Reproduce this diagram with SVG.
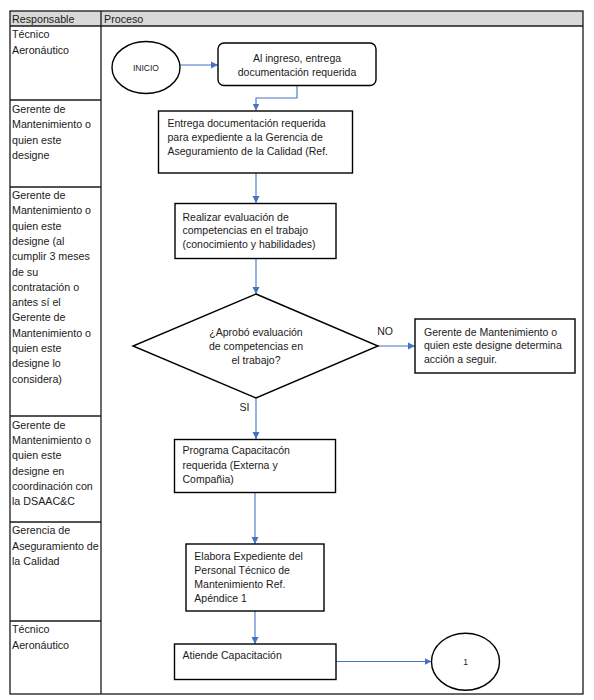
<svg xmlns="http://www.w3.org/2000/svg" width="594" height="700" viewBox="0 0 594 700">
<defs>
<marker id="ah" markerWidth="8" markerHeight="8" refX="7" refY="4" orient="auto" markerUnits="userSpaceOnUse">
<path d="M0,0.5 L7,4 L0,7.5 Z" fill="#4472C4"/>
</marker>
<style>
.tbl{fill:none;stroke:#1a1a1a;stroke-width:1.3}
.lane{font-family:"Liberation Sans",Arial,sans-serif;font-size:10.7px;fill:#1a1a1a}
.box{fill:#fff;stroke:#000;stroke-width:1.4}
.t{font-family:"Liberation Sans",Arial,sans-serif;font-size:10.5px;fill:#1a1a1a}
.sm{font-family:"Liberation Sans",Arial,sans-serif;font-size:8.5px;fill:#1a1a1a}
.c{text-anchor:middle}
.con{fill:none;stroke:#4472C4;stroke-width:1.1;marker-end:url(#ah)}
</style>
</defs>
<rect width="594" height="700" fill="#fff"/>
<g id="table">
<rect x="10" y="11" width="573" height="15" fill="#d9d9d9"/>
<rect x="10" y="11" width="573" height="683" class="tbl"/>
<line x1="10" y1="26" x2="583" y2="26" class="tbl"/>
<line x1="101" y1="11" x2="101" y2="694" class="tbl"/>
<line x1="10" y1="100" x2="101" y2="100" class="tbl"/>
<line x1="10" y1="187" x2="101" y2="187" class="tbl"/>
<line x1="10" y1="416" x2="101" y2="416" class="tbl"/>
<line x1="10" y1="522" x2="101" y2="522" class="tbl"/>
<line x1="10" y1="621" x2="101" y2="621" class="tbl"/>
<text x="12" y="23" class="lane">Responsable</text>
<text x="104" y="23" class="lane">Proceso</text>
</g>
<g id="lanes">
<text class="lane" x="12"><tspan x="12" y="38">Técnico</tspan><tspan x="12" y="54">Aeronáutico</tspan></text>
<text class="lane"><tspan x="12" y="113">Gerente de</tspan><tspan x="12" y="128.3">Mantenimiento o</tspan><tspan x="12" y="143.6">quien este</tspan><tspan x="12" y="158.9">designe</tspan></text>
<text class="lane"><tspan x="12" y="199">Gerente de</tspan><tspan x="12" y="214.3">Mantenimiento o</tspan><tspan x="12" y="229.6">quien este</tspan><tspan x="12" y="244.9">designe (al</tspan><tspan x="12" y="260.2">cumplir 3 meses</tspan><tspan x="12" y="275.5">de su</tspan><tspan x="12" y="290.8">contratación o</tspan><tspan x="12" y="306.1">antes sí el</tspan><tspan x="12" y="321.4">Gerente de</tspan><tspan x="12" y="336.7">Mantenimiento o</tspan><tspan x="12" y="352">quien este</tspan><tspan x="12" y="367.3">designe lo</tspan><tspan x="12" y="382.6">considera)</tspan></text>
<text class="lane"><tspan x="12" y="429">Gerente de</tspan><tspan x="12" y="444.2">Mantenimiento o</tspan><tspan x="12" y="459.4">quien este</tspan><tspan x="12" y="474.6">designe en</tspan><tspan x="12" y="489.8">coordinación con</tspan><tspan x="12" y="505">la DSAAC&amp;C</tspan></text>
<text class="lane"><tspan x="12" y="534">Gerencia de</tspan><tspan x="12" y="549.5">Aseguramiento de</tspan><tspan x="12" y="565">la Calidad</tspan></text>
<text class="lane"><tspan x="12" y="633">Técnico</tspan><tspan x="12" y="649">Aeronáutico</tspan></text>
</g>
<g id="connectors">
<line x1="180" y1="65" x2="218" y2="65" class="con"/>
<path d="M297 85.5 V98 H256 V110.5" class="con"/>
<line x1="256" y1="173" x2="256" y2="203" class="con"/>
<line x1="256" y1="258.5" x2="256" y2="294" class="con"/>
<line x1="378" y1="346" x2="415" y2="346" class="con"/>
<line x1="256" y1="398" x2="256" y2="439" class="con"/>
<line x1="255" y1="492.5" x2="255" y2="544" class="con"/>
<line x1="255" y1="611" x2="255" y2="644" class="con"/>
<line x1="336" y1="661.5" x2="431.5" y2="661.5" class="con"/>
<text x="385" y="335" class="t c">NO</text>
<text x="244.5" y="411" class="t c">SI</text>
</g>
<g id="inicio">
<ellipse cx="146" cy="67.5" rx="34" ry="26" class="box"/>
<text x="146" y="70.5" class="sm c">INICIO</text>
</g>
<g id="n1">
<rect x="218" y="43" width="158" height="42.5" rx="6" class="box"/>
<text class="t c"><tspan x="297" y="62">Al ingreso, entrega</tspan><tspan x="297" y="75.5">documentación requerida</tspan></text>
</g>
<g id="n2">
<rect x="158.5" y="111" width="194" height="62" class="box"/>
<text class="t"><tspan x="167.5" y="126.5">Entrega documentación requerida</tspan><tspan x="167.5" y="140.5">para expediente a la Gerencia de</tspan><tspan x="167.5" y="154.5">Aseguramiento de la Calidad (Ref.</tspan></text>
</g>
<g id="n3">
<rect x="175" y="203.5" width="161" height="55" class="box"/>
<text class="t"><tspan x="182.5" y="220.5">Realizar evaluación de</tspan><tspan x="182.5" y="234.3">competencias en el trabajo</tspan><tspan x="182.5" y="248.1">(conocimiento y habilidades)</tspan></text>
</g>
<g id="decision">
<polygon points="256,294 378,346 256,398 133,346" class="box"/>
<text class="t c"><tspan x="256" y="336">¿Aprobó evaluación</tspan><tspan x="256" y="349.8">de competencias en</tspan><tspan x="256" y="363.6">el trabajo?</tspan></text>
</g>
<g id="n4">
<rect x="415" y="319" width="160" height="54" class="box"/>
<text class="t"><tspan x="424" y="335.5">Gerente de Mantenimiento o</tspan><tspan x="424" y="349">quien este designe determina</tspan><tspan x="424" y="362.5">acción a seguir.</tspan></text>
</g>
<g id="n5">
<rect x="174.5" y="439.5" width="161" height="53" class="box"/>
<text class="t"><tspan x="182.5" y="454">Programa Capacitacón</tspan><tspan x="182.5" y="468.5">requerida (Externa y</tspan><tspan x="182.5" y="483">Compañia)</tspan></text>
</g>
<g id="n6">
<rect x="186" y="544" width="138" height="67" class="box"/>
<text class="t"><tspan x="194.3" y="559.5">Elabora Expediente del</tspan><tspan x="194.3" y="573.5">Personal Técnico de</tspan><tspan x="194.3" y="587.5">Mantenimiento Ref.</tspan><tspan x="194.3" y="601.5">Apéndice 1</tspan></text>
</g>
<g id="n7">
<rect x="174.5" y="644" width="161.5" height="35.5" class="box"/>
<text x="182.5" y="659" class="t">Atiende Capacitación</text>
</g>
<g id="fin">
<ellipse cx="465.5" cy="661.7" rx="34" ry="28.5" class="box"/>
<text x="465.5" y="665" class="sm c">1</text>
</g>
</svg>
